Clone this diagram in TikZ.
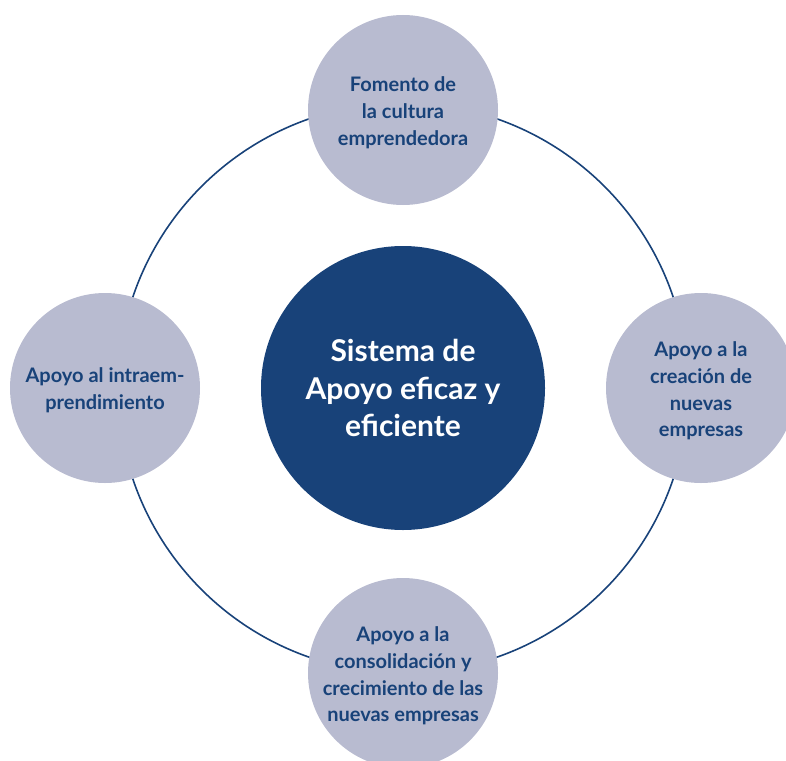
\documentclass[tikz,border=0pt]{standalone}
\usepackage{fontspec}
\setmainfont{Lato}[BoldFont={Lato Bold}]
\definecolor{darkb}{RGB}{24,66,121}
\definecolor{lightc}{RGB}{184,187,208}
\begin{document}
\begin{tikzpicture}[x=1pt,y=-1pt,
  sat/.style={circle,fill=lightc,minimum size=190pt,inner sep=0pt},
  sattext/.style={align=center,text=darkb,inner sep=0pt,yshift=-3pt,font=\bfseries\fontsize{20}{26.8}\selectfont},
  hub/.style={circle,fill=darkb,minimum size=284pt,inner sep=0pt,align=center,text=white,font=\bfseries\fontsize{30}{37.5}\selectfont},
  ring/.style={draw=darkb,line width=1.6pt}]
\useasboundingbox (0,0) rectangle (786,760);
\clip (0,0) rectangle (786,760);
\coordinate (c) at (403,388);
\draw[ring] (c) circle[radius=285];
\node[hub] (hub) at (c) {Sistema de\\Apoyo eficaz y\\eficiente};
\node[sat,label={[sattext]center:{Fomento de\\la cultura\\emprendedora}}] (top) at (403,110) {};
\node[sat,label={[sattext,yshift=1pt]center:{Apoyo al intraem-\\prendimiento}}] (left) at (105,388) {};
\node[sat,label={[sattext]center:{Apoyo a la\\creación de\\nuevas\\empresas}}] (right) at (701,388) {};
\node[sat,label={[sattext]center:{Apoyo a la\\consolidación y\\crecimiento de las\\nuevas empresas}}] (bottom) at (403,673) {};
\end{tikzpicture}
\end{document}
